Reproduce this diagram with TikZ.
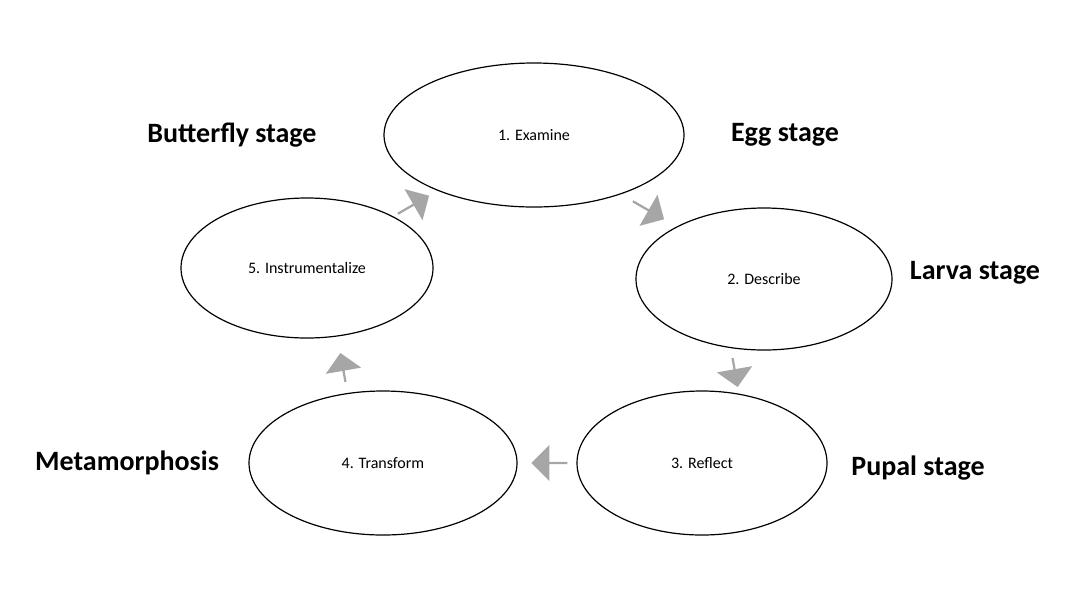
\documentclass[tikz,border=0pt]{standalone}
\usepackage{fontspec}
\setmainfont{Carlito}
\usetikzlibrary{shapes.arrows,shapes.geometric}
\begin{document}
\begin{tikzpicture}[x=0.75pt,y=-0.75pt,
  stagebox/.style={ellipse, draw=black, line width=0.9pt, font=\fontsize{12}{14}\selectfont},
  bigtext/.style={font=\bfseries\fontsize{21}{24}\selectfont},
  flowarrow/.style={single arrow, fill=black!35, draw=none, minimum height=27pt, minimum width=27pt, single arrow head extend=3pt, inner sep=0pt}]
\useasboundingbox (0,0) rectangle (1067,601);
\node[stagebox, minimum width=300*0.75pt, minimum height=144*0.75pt] (e1) at (534,135) {1. Examine};
\node[stagebox, minimum width=256*0.75pt, minimum height=142*0.75pt] (e2) at (764,279) {2. Describe};
\node[stagebox, minimum width=250*0.75pt, minimum height=144*0.75pt] (e3) at (702,463) {3. Reflect};
\node[stagebox, minimum width=268*0.75pt, minimum height=144*0.75pt] (e4) at (383,463) {4. Transform};
\node[stagebox, minimum width=252*0.75pt, minimum height=140*0.75pt] (e5) at (307,268) {5. Instrumentalize};
\node[bigtext] (l1) at (232,135) {Butterfly stage};
\node[bigtext] (l2) at (785,135) {Egg stage};
\node[bigtext] (l3) at (975,273) {Larva stage};
\node[bigtext] (l4) at (918,468) {Pupal stage};
\node[bigtext] (l5) at (127,463) {Metamorphosis};
\node[flowarrow, rotate=-30] (a1) at (648,210) {};
\node[flowarrow, rotate=-80, minimum height=22pt] (a2) at (735,372) {};
\node[flowarrow, rotate=180] (a3) at (550,463) {};
\node[flowarrow, rotate=100, minimum height=22pt] (a4) at (343,368) {};
\node[flowarrow, rotate=30] (a5) at (413,205) {};
\end{tikzpicture}
\end{document}
